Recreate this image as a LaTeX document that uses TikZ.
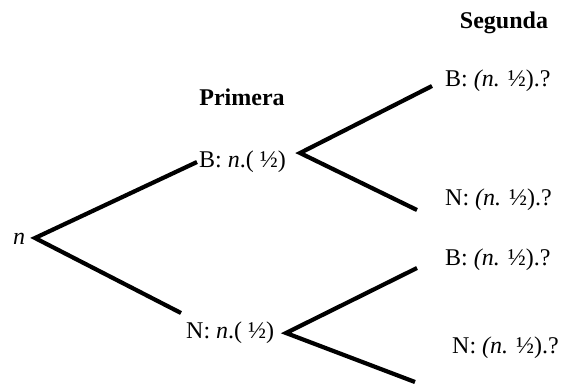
\documentclass[tikz,border=0pt]{standalone}
\usepackage{fontspec}
\setmainfont{Liberation Serif}
\begin{document}
\begin{tikzpicture}[x=1pt,y=-1pt,
  branch/.style={line width=4.2pt},
  lbl/.style={font=\fontsize{24}{28}\selectfont, inner sep=0pt, anchor=west},
  ttl/.style={font=\fontsize{24}{28}\selectfont\bfseries, inner sep=0pt}]
\useasboundingbox (0,0) rectangle (564,384);
% titles
\node[ttl] (seg) at (504,23) {Segunda};
\node[ttl] (pri) at (242,97) {Primera};
% root
\node[lbl, anchor=center] (n) at (19,239) {\textit{n}};
\coordinate (r) at (35,238);
% first level
\coordinate (b1e) at (197,162);
\node[lbl] (b1) at (199,162) {B: \textit{n}.( ½)};
\coordinate (n1e) at (181,313);
\node[lbl] (n1) at (186,333) {N: \textit{n}.( ½)};
\coordinate (b1j) at (300,153);
\coordinate (n1j) at (286,333);
% second level
\coordinate (b2e) at (432,86);
\coordinate (n2e) at (417,210);
\coordinate (b3e) at (417,268);
\coordinate (n3e) at (415,382);
\node[lbl] (b2) at (445,81) {B: \textit{(n.} ½).?};
\node[lbl] (n2) at (445,200) {N: \textit{(n.} ½).?};
\node[lbl] (b3) at (445,260) {B: \textit{(n.} ½).?};
\node[lbl] (n3) at (452,348) {N: \textit{(n.} ½).?};
% branches
\draw[branch] (b1e) -- (r) -- (n1e);
\draw[branch] (b2e) -- (b1j) -- (n2e);
\draw[branch] (b3e) -- (n1j) -- (n3e);
\end{tikzpicture}
\end{document}
